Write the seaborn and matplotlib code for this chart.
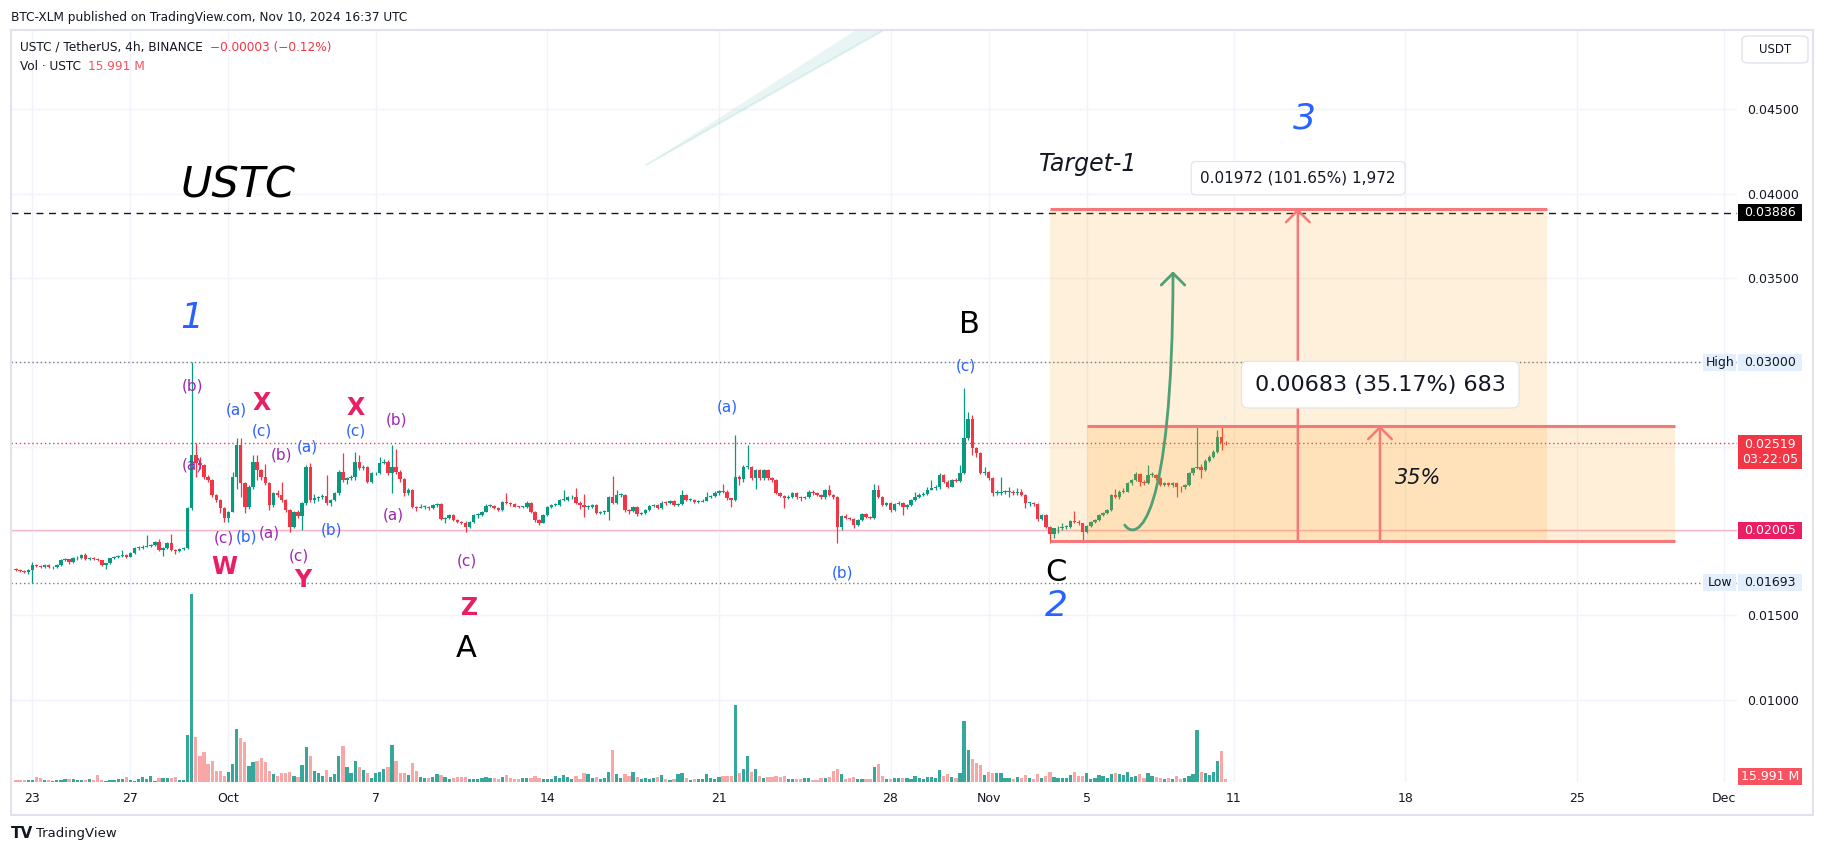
import numpy as np
import pandas as pd
import matplotlib
matplotlib.use("Agg")
import matplotlib.pyplot as plt
import matplotlib.transforms as mtransforms
from matplotlib.patches import Rectangle, FancyBboxPatch, FancyArrowPatch, Polygon
from matplotlib.path import Path
import seaborn as sns

# ---- data: 4h candles, prices in 1e-5 USDT, volume in millions USTC ----
close_5 = [
    1768, 1764, 1758, 1768, 1798, 1792, 1788, 1798, 1784, 1784,
    1798, 1827, 1831, 1814, 1837, 1841, 1857, 1831, 1841, 1835,
    1827, 1798, 1808, 1837, 1847, 1851, 1857, 1847, 1871, 1897,
    1897, 1907, 1911, 1917, 1936, 1887, 1897, 1930, 1887, 1883,
    1895, 1897, 2134, 2450, 2401, 2391, 2322, 2302, 2213, 2183,
    2134, 2075, 2114, 2322, 2510, 2282, 2144, 2262, 2411, 2361,
    2322, 2282, 2154, 2223, 2213, 2183, 2124, 2025, 2114, 2088,
    2164, 2377, 2183, 2193, 2203, 2207, 2164, 2183, 2223, 2351,
    2302, 2312, 2322, 2411, 2371, 2381, 2292, 2341, 2341, 2401,
    2411, 2341, 2381, 2351, 2306, 2223, 2243, 2144, 2138, 2144,
    2144, 2134, 2154, 2160, 2069, 2075, 2094, 2065, 2055, 2049,
    2025, 2055, 2094, 2094, 2114, 2148, 2148, 2134, 2124, 2173,
    2164, 2160, 2144, 2140, 2140, 2168, 2114, 2065, 2049, 2094,
    2144, 2154, 2154, 2183, 2183, 2199, 2203, 2168, 2154, 2144,
    2144, 2154, 2108, 2114, 2114, 2203, 2168, 2213, 2213, 2124,
    2120, 2144, 2100, 2108, 2124, 2148, 2154, 2134, 2168, 2164,
    2179, 2154, 2160, 2213, 2183, 2183, 2173, 2173, 2179, 2203,
    2207, 2223, 2235, 2233, 2193, 2183, 2322, 2306, 2381, 2381,
    2312, 2361, 2312, 2361, 2312, 2302, 2227, 2209, 2193, 2203,
    2223, 2199, 2193, 2199, 2233, 2223, 2213, 2199, 2243, 2213,
    2203, 2025, 2088, 2075, 2071, 2035, 2065, 2100, 2084, 2075,
    2243, 2203, 2154, 2164, 2124, 2160, 2168, 2140, 2154, 2183,
    2203, 2213, 2219, 2243, 2253, 2258, 2332, 2292, 2262, 2302,
    2298, 2341, 2549, 2662, 2490, 2460, 2345, 2351, 2312, 2223,
    2227, 2233, 2233, 2233, 2223, 2233, 2213, 2164, 2164, 2160,
    2069, 2094, 2025, 1981, 2015, 2019, 2025, 2025, 2059, 2055,
    2045, 1996, 2029, 2055, 2065, 2094, 2104, 2124, 2213, 2203,
    2233, 2233, 2282, 2302, 2337, 2292, 2282, 2332, 2332, 2312,
    2272, 2282, 2272, 2282, 2262, 2258, 2270, 2341, 2371, 2381,
    2361, 2416, 2440, 2470, 2559, 2522, 2519,
]
high_5 = [
    1778, 1772, 1768, 1775, 1815, 1803, 1800, 1805, 1802, 1792,
    1805, 1832, 1838, 1835, 1843, 1850, 1862, 1872, 1848, 1845,
    1840, 1830, 1812, 1842, 1852, 1858, 1888, 1862, 1876, 1905,
    1910, 1914, 1974, 1924, 1942, 1955, 1902, 1936, 1981, 1893,
    1900, 1906, 2140, 3000, 2519, 2440, 2398, 2330, 2310, 2220,
    2190, 2140, 2120, 2352, 2549, 2549, 2290, 2272, 2450, 2450,
    2370, 2395, 2290, 2230, 2240, 2290, 2190, 2130, 2120, 2125,
    2170, 2390, 2400, 2220, 2210, 2220, 2331, 2190, 2230, 2360,
    2460, 2320, 2330, 2470, 2450, 2390, 2388, 2350, 2352, 2440,
    2425, 2418, 2510, 2486, 2360, 2312, 2252, 2248, 2150, 2158,
    2155, 2150, 2160, 2165, 2165, 2080, 2100, 2100, 2070, 2060,
    2058, 2060, 2100, 2104, 2120, 2158, 2160, 2155, 2140, 2180,
    2225, 2170, 2165, 2150, 2148, 2175, 2172, 2118, 2070, 2100,
    2150, 2160, 2165, 2190, 2243, 2210, 2212, 2252, 2175, 2219,
    2155, 2160, 2160, 2120, 2125, 2210, 2326, 2240, 2225, 2218,
    2130, 2150, 2150, 2115, 2130, 2155, 2162, 2160, 2175, 2175,
    2185, 2185, 2168, 2240, 2220, 2195, 2190, 2185, 2190, 2230,
    2215, 2235, 2245, 2276, 2240, 2195, 2569, 2330, 2390, 2510,
    2388, 2368, 2368, 2366, 2366, 2318, 2308, 2232, 2215, 2212,
    2230, 2230, 2205, 2206, 2245, 2240, 2232, 2220, 2250, 2272,
    2220, 2210, 2095, 2098, 2080, 2078, 2070, 2105, 2108, 2090,
    2280, 2270, 2208, 2172, 2170, 2168, 2175, 2172, 2160, 2190,
    2230, 2225, 2228, 2262, 2300, 2275, 2345, 2340, 2300, 2310,
    2312, 2390, 2846, 2705, 2690, 2500, 2470, 2380, 2358, 2318,
    2240, 2322, 2245, 2260, 2240, 2255, 2250, 2220, 2172, 2170,
    2165, 2100, 2100, 2030, 2020, 2028, 2045, 2035, 2065, 2120,
    2062, 2050, 2035, 2060, 2072, 2100, 2112, 2130, 2220, 2250,
    2240, 2255, 2292, 2310, 2350, 2345, 2300, 2391, 2350, 2338,
    2318, 2288, 2290, 2290, 2288, 2268, 2280, 2350, 2380, 2628,
    2395, 2425, 2450, 2478, 2598, 2622, 2535,
]
low_5 = [
    1760, 1755, 1750, 1745, 1693, 1785, 1780, 1782, 1778, 1776,
    1780, 1795, 1820, 1806, 1810, 1830, 1836, 1825, 1826, 1828,
    1820, 1794, 1775, 1804, 1832, 1842, 1846, 1840, 1843, 1866,
    1888, 1890, 1903, 1905, 1912, 1880, 1850, 1892, 1882, 1866,
    1878, 1886, 1890, 2124, 2322, 2370, 2310, 2290, 2200, 2170,
    2104, 2055, 2055, 2110, 2250, 2200, 2108, 2130, 2250, 2300,
    2300, 2270, 2124, 2140, 2200, 2170, 2110, 1996, 2018, 2075,
    2005, 2155, 2170, 2165, 2180, 2190, 2155, 2150, 2175, 2215,
    2290, 2280, 2300, 2300, 2360, 2360, 2283, 2285, 2330, 2335,
    2395, 2330, 2223, 2340, 2290, 2210, 2215, 2135, 2120, 2135,
    2132, 2125, 2128, 2140, 2062, 2050, 2070, 2058, 2048, 2040,
    1996, 2018, 2050, 2075, 2088, 2110, 2140, 2128, 2118, 2120,
    2158, 2150, 2140, 2134, 2134, 2136, 2108, 2055, 2036, 2045,
    2090, 2138, 2145, 2150, 2175, 2178, 2190, 2160, 2130, 2080,
    2130, 2135, 2100, 2098, 2100, 2065, 2160, 2160, 2200, 2115,
    2100, 2112, 2090, 2095, 2100, 2118, 2140, 2128, 2130, 2155,
    2158, 2148, 2148, 2155, 2178, 2175, 2165, 2165, 2170, 2175,
    2195, 2200, 2215, 2225, 2185, 2144, 2178, 2270, 2290, 2370,
    2300, 2250, 2300, 2305, 2300, 2290, 2220, 2200, 2138, 2188,
    2198, 2192, 2180, 2188, 2195, 2215, 2205, 2192, 2190, 2205,
    2190, 1926, 2005, 2068, 2062, 2020, 2028, 2060, 2078, 2070,
    2068, 2195, 2148, 2150, 2115, 2118, 2155, 2094, 2132, 2150,
    2178, 2198, 2205, 2212, 2240, 2245, 2250, 2285, 2255, 2258,
    2290, 2290, 2335, 2540, 2450, 2440, 2335, 2330, 2300, 2210,
    2215, 2215, 2220, 2202, 2215, 2215, 2205, 2135, 2150, 2150,
    2060, 2062, 2015, 1926, 1960, 1990, 2005, 2010, 2018, 2048,
    2035, 1946, 1990, 2025, 2050, 2060, 2090, 2100, 2118, 2195,
    2190, 2225, 2228, 2275, 2295, 2265, 2272, 2278, 2320, 2300,
    2265, 2265, 2265, 2262, 2203, 2230, 2250, 2265, 2330, 2365,
    2312, 2355, 2410, 2435, 2465, 2480, 2510,
]
vol_m = [
    14, 14, 14, 14, 14, 32, 26, 14, 14, 8,
    14, 10, 20, 20, 20, 14, 14, 14, 20, 14,
    40, 14, 8, 10, 14, 20, 20, 32, 14, 8,
    20, 32, 20, 38, 8, 26, 26, 26, 26, 32,
    14, 14, 280, 1126, 268, 154, 178, 106, 124, 64,
    64, 34, 58, 106, 316, 262, 238, 94, 118, 124,
    142, 118, 64, 46, 34, 52, 52, 58, 34, 28,
    100, 208, 154, 64, 52, 34, 70, 28, 46, 154,
    214, 88, 52, 124, 88, 70, 52, 22, 52, 58,
    76, 88, 220, 124, 52, 52, 40, 112, 64, 28,
    22, 22, 28, 46, 40, 28, 16, 22, 28, 28,
    28, 16, 16, 16, 22, 28, 22, 22, 16, 28,
    40, 22, 16, 16, 22, 22, 22, 34, 22, 16,
    16, 16, 34, 22, 40, 28, 16, 34, 16, 52,
    46, 22, 28, 16, 22, 58, 190, 46, 22, 46,
    34, 58, 28, 16, 22, 16, 22, 28, 40, 16,
    10, 16, 46, 52, 22, 10, 16, 16, 16, 46,
    22, 16, 28, 34, 34, 34, 460, 52, 76, 154,
    58, 76, 34, 22, 28, 28, 34, 28, 34, 16,
    16, 16, 16, 22, 22, 10, 10, 22, 22, 28,
    64, 76, 46, 16, 22, 28, 16, 16, 16, 16,
    88, 106, 34, 16, 16, 22, 22, 22, 22, 16,
    34, 22, 16, 28, 28, 22, 70, 34, 46, 28,
    22, 52, 364, 190, 136, 112, 100, 40, 58, 52,
    52, 52, 22, 22, 16, 28, 22, 40, 22, 16,
    46, 22, 34, 58, 28, 22, 22, 22, 40, 58,
    34, 34, 52, 16, 22, 40, 34, 22, 46, 52,
    46, 40, 58, 28, 34, 46, 22, 52, 34, 28,
    22, 16, 22, 16, 34, 16, 22, 34, 46, 310,
    58, 52, 40, 58, 124, 184, 16,
]
first_open_5 = 1775
first_bar_day = -2 / 3   # Sep 22 08:00, counted in days from Sep 23 00:00

date_ticks = [0, 4, 8, 14, 21, 28, 35, 39, 43, 49, 56, 63, 69]
date_labels = ["23", "27", "Oct", "7", "14", "21", "28", "Nov", "5", "11", "18", "25", "Dec"]
price_ticks = [0.010, 0.015, 0.020, 0.025, 0.030, 0.035, 0.040, 0.045]
price_labels = ["0.01000", "0.01500", "", "", "", "0.03500", "0.04000", "0.04500"]

last_price = 0.02519
hi_price, lo_price = 0.03000, 0.01693
support = 0.02005
target_line = 0.03886
box_big = (41.5, 61.77, 0.01940, 0.03912)     # 0.01972 (101.65%)
box_small = (43.0, 67.0, 0.01942, 0.02625)    # 0.00683 (35.17%)

wave_labels = [
    ("1", 6.52, 0.03263, "#2962FF", 26, "italic", "normal"),
    ("(b)", 6.52, 0.02859, "#9C27B0", 11, "normal", "normal"),
    ("(a)", 6.52, 0.02391, "#9C27B0", 11, "normal", "normal"),
    ("(a)", 8.31, 0.02717, "#2962FF", 11, "normal", "normal"),
    ("X", 9.37, 0.02759, "#E91E63", 17, "normal", "bold"),
    ("(c)", 9.37, 0.02593, "#2962FF", 11, "normal", "normal"),
    ("(b)", 10.18, 0.02450, "#9C27B0", 11, "normal", "normal"),
    ("(a)", 11.20, 0.02498, "#2962FF", 11, "normal", "normal"),
    ("(c)", 7.80, 0.01958, "#9C27B0", 11, "normal", "normal"),
    ("(b)", 8.72, 0.01964, "#2962FF", 11, "normal", "normal"),
    ("(a)", 9.65, 0.01988, "#9C27B0", 11, "normal", "normal"),
    ("W", 7.82, 0.01786, "#E91E63", 17, "normal", "bold"),
    ("(c)", 10.88, 0.01851, "#9C27B0", 11, "normal", "normal"),
    ("Y", 11.04, 0.01709, "#E91E63", 17, "normal", "bold"),
    ("(b)", 12.22, 0.02006, "#2962FF", 11, "normal", "normal"),
    ("X", 13.20, 0.02729, "#E91E63", 17, "normal", "bold"),
    ("(c)", 13.20, 0.02593, "#2962FF", 11, "normal", "normal"),
    ("(b)", 14.87, 0.02658, "#9C27B0", 11, "normal", "normal"),
    ("(a)", 14.71, 0.02094, "#9C27B0", 11, "normal", "normal"),
    ("(c)", 17.73, 0.01821, "#9C27B0", 11, "normal", "normal"),
    ("Z", 17.85, 0.01543, "#E91E63", 17, "normal", "bold"),
    ("A", 17.69, 0.01300, "black", 22, "normal", "normal"),
    ("(a)", 28.33, 0.02735, "#2962FF", 11, "normal", "normal"),
    ("(b)", 33.06, 0.01750, "#2962FF", 11, "normal", "normal"),
    ("B", 38.20, 0.03227, "black", 22, "normal", "normal"),
    ("(c)", 38.08, 0.02978, "#2962FF", 11, "normal", "normal"),
    ("C", 41.75, 0.01756, "black", 22, "normal", "normal"),
    ("2", 41.75, 0.01555, "#2962FF", 26, "italic", "normal"),
    ("3", 51.86, 0.04444, "#2962FF", 26, "italic", "normal"),
]

GREEN, RED = "#089981", "#F23645"
VGREEN, VRED = "#35A89B", "#F7A8A6"
DARK = "#131722"
GRID = "#F0F3FA"
LINE_RED = "#F5787A"

df = pd.DataFrame({
    "t": first_bar_day + np.arange(len(close_5)) / 6,
    "close": np.array(close_5) / 1e5,
    "high": np.array(high_5) / 1e5,
    "low": np.array(low_5) / 1e5,
    "vol": vol_m,
})
df["open"] = df["close"].shift(1).fillna(first_open_5 / 1e5)
df["up"] = df["close"] >= df["open"]
df["dir"] = np.where(df["up"], "up", "down")

sns.set_style("white")
plt.rcParams["font.family"] = ["DejaVu Sans"]

W, H = 1824, 852
fig = plt.figure(figsize=(W / 100, H / 100), dpi=100)
ax = fig.add_axes([11 / W, 1 - 782 / H, (1737 - 11) / W, (782 - 30) / H])
ax2 = ax.twinx()
ax.yaxis.tick_right()

# candles
cols = np.where(df["up"], GREEN, RED)
ax.vlines(df["t"], df["low"], df["high"], colors=cols, lw=0.9, zorder=3)
body_lo = np.minimum(df["open"], df["close"])
body_h = np.maximum((df["close"] - df["open"]).abs(), 0.00005)
ax.bar(df["t"], body_h, bottom=body_lo, width=0.14, color=cols, linewidth=0, zorder=3)

# volume
sns.barplot(data=df, x="t", y="vol", hue="dir", palette={"up": VGREEN, "down": VRED},
            native_scale=True, width=0.8, errorbar=None, legend=False, saturation=1,
            linewidth=0, ax=ax2)
ax2.set_ylim(0, 4511)
ax2.set_yticks([])
ax2.set_ylabel("")
for s in ax2.spines.values():
    s.set_visible(False)

# horizontal levels
ax.axhline(target_line, color=DARK, lw=1, ls=(0, (5, 4)), zorder=2)
ax.axhline(hi_price, color="#787B86", lw=1, ls=(0, (1, 2)), zorder=2)
ax.axhline(lo_price, color="#787B86", lw=1, ls=(0, (1, 2)), zorder=2)
ax.axhline(last_price, color=RED, lw=1, ls=(0, (1, 2)), zorder=2)
ax.axhline(support, color="#F3B7C8", lw=1, zorder=2)

# target boxes
x0, x1, y0, y1 = box_big
ax.add_patch(Rectangle((x0, y0), x1 - x0, y1 - y0, fc="#FF9800", alpha=0.14, ec="none", zorder=4))
ax.hlines(y1, x0, x1, color=LINE_RED, lw=2.2, zorder=5)
sx0, sx1, sy0, sy1 = box_small
ax.add_patch(Rectangle((sx0, sy0), sx1 - sx0, sy1 - sy0, fc="#FF9800", alpha=0.15, ec="none", zorder=4))
ax.hlines(sy1, sx0, sx1, color=LINE_RED, lw=2.2, zorder=5)
ax.hlines(y0, x0, sx1, color=LINE_RED, lw=2.2, zorder=5)

arrow_kw = dict(arrowstyle="->,head_length=0.5,head_width=0.5", color=LINE_RED, lw=1.8,
                mutation_scale=17, shrinkA=0, shrinkB=0)
ax.annotate("", xy=(51.61, y1), xytext=(51.61, y0), arrowprops=arrow_kw, zorder=6)
ax.annotate("", xy=(54.96, sy1), xytext=(54.96, sy0), arrowprops=arrow_kw, zorder=6)

# green projection curve
curve = Path([(44.55, 0.02035), (45.05, 0.0193), (46.5, 0.0205), (46.52, 0.0354)],
             [Path.MOVETO, Path.CURVE4, Path.CURVE4, Path.CURVE4])
ax.add_patch(FancyArrowPatch(path=curve, arrowstyle="->,head_length=0.5,head_width=0.5",
                             mutation_scale=17, color="#4FA075", lw=2, zorder=6))

# faint brush streak
ax.add_patch(Polygon([(25.03, 0.04171), (33.6, 0.04971), (34.73, 0.04971)],
                     closed=True, fc="#26A69A", alpha=0.10, ec="none", zorder=2))
ax.plot([25.03, 34.73], [0.04171, 0.04971], color="#26A69A", alpha=0.12, lw=1.5, zorder=2)

# measurement labels
ax.text(51.62, 0.04092, "0.01972 (101.65%) 1,972", fontsize=11, color=DARK, ha="center",
        va="center", zorder=8,
        bbox=dict(boxstyle="round,pad=0.6,rounding_size=0.3", fc="white", ec="#E0E3EB", lw=0.8))
ax.text(54.97, 0.02868, "0.00683 (35.17%) 683", fontsize=16, color=DARK, ha="center",
        va="center", zorder=8,
        bbox=dict(boxstyle="round,pad=0.6,rounding_size=0.3", fc="white", ec="#E0E3EB", lw=0.8))
ax.text(56.5, 0.02314, "35%", fontsize=15, style="italic", color=DARK, ha="center", va="center", zorder=8)
ax.text(41.06, 0.04176, "Target-1", fontsize=17, style="italic", color=DARK, ha="left", va="center", zorder=8)
ax.text(6.03, 0.04046, "USTC", fontsize=31, style="italic", color="black", ha="left", va="center", zorder=8)

for txt, x, y, c, fs, st, wt in wave_labels:
    ax.text(x, y, txt, color=c, fontsize=fs, style=st, fontweight=wt, ha="center", va="center", zorder=8)

# axes cosmetics
ax.set_xlim(-0.87, 69.52)
ax.set_ylim(0.00511, 0.04971)
ax.set_xticks(date_ticks, date_labels)
ax.set_yticks(price_ticks, price_labels)
ax.tick_params(length=0, labelsize=9, labelcolor=DARK)
ax.tick_params(axis="y", pad=7)
ax.tick_params(axis="x", pad=7)
ax.grid(True, color=GRID, lw=1)
ax.set_axisbelow(True)
ax.set_xlabel("")
for s in ax.spines.values():
    s.set_visible(False)

# price-scale tags
trans = mtransforms.blended_transform_factory(ax.transAxes, ax.transData)


def tag(y, txt, fc, tc, xa=1.0006, xb=1.0377, h=0.00101, yc=None):
    yc = y if yc is None else yc
    ax.add_patch(Rectangle((xa, yc - h / 2), xb - xa, h, transform=trans, clip_on=False,
                           fc=fc, ec="none", zorder=10))
    ax.text((xa + xb) / 2, yc, txt, transform=trans, clip_on=False, ha="center", va="center",
            fontsize=9, color=tc, zorder=11, linespacing=1.15)


tag(target_line, "0.03886", "black", "white")
tag(hi_price, "0.03000", "#E3EFFD", DARK)
tag(hi_price, "High", "#E3EFFD", DARK, xa=0.9803, xb=0.9997)
tag(last_price, "0.02519\n03:22:05", RED, "white", h=0.00199, yc=0.02468)
tag(support, "0.02005", "#E91E63", "white")
tag(lo_price, "0.01693", "#E3EFFD", DARK)
tag(lo_price, "Low", "#E3EFFD", DARK, xa=0.9803, xb=0.9997)
tag(0.00546, "15.991 M", "#F7525F", "white")

# header, frame, footer
fig.text(11.5 / W, 1 - 17 / H, "BTC-XLM published on TradingView.com, Nov 10, 2024 16:37 UTC",
         fontsize=8.7, color=DARK, va="center")
t1 = fig.text(20 / W, 1 - 47 / H, "USTC / TetherUS, 4h, BINANCE", fontsize=8.7, color=DARK, va="center")
ax.annotate("\u22120.00003 (\u22120.12%)", xy=(1, 0.5), xycoords=t1, xytext=(5, 0),
            textcoords="offset points", va="center", fontsize=8.7, color=RED)
t2 = fig.text(20 / W, 1 - 67 / H, "Vol \u00b7 USTC", fontsize=8.7, color=DARK, va="center")
ax.annotate("15.991 M", xy=(1, 0.5), xycoords=t2, xytext=(5, 0),
            textcoords="offset points", va="center", fontsize=8.7, color="#F7525F")

fig.add_artist(Rectangle((11 / W, 1 - 815 / H), (1813 - 11) / W, (815 - 30) / H,
                         transform=fig.transFigure, fill=False, ec="#E0E3EB", lw=1.5))
fig.add_artist(FancyBboxPatch((1742 / W, 1 - 63 / H), 66 / W, 27 / H,
                              boxstyle="round,pad=0,rounding_size=0.004", transform=fig.transFigure,
                              fc="white", ec="#E0E3EB", lw=1))
fig.text(1775 / W, 1 - 49.5 / H, "USDT", fontsize=8.5, color=DARK, ha="center", va="center")

fig.text(11 / W, 1 - 833 / H, "TV", fontsize=11, fontweight="bold", color=DARK, va="center")
fig.text(36 / W, 1 - 833 / H, "TradingView", fontsize=9.5, color=DARK, va="center")

fig.savefig("out.png", dpi=100, facecolor="white")
